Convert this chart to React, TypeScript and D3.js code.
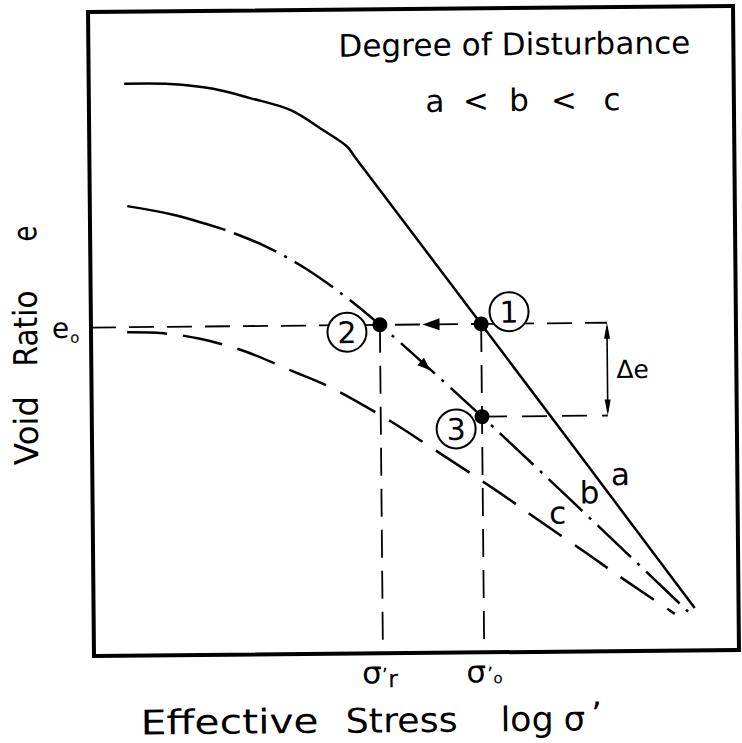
import React from "react";
import * as d3 from "d3";

// ---- data (log σ' and void ratio e in arbitrary units) ----
const stressA = [0.55, 1.26, 1.93, 2.5, 3.12, 3.63, 4.0, 4.13, 6.05, 9.32];
const ratioA = [8.88, 8.87, 8.79, 8.64, 8.45, 8.13, 7.87, 7.69, 5.1, 0.66];
const stressB = [0.58, 1.29, 2.06, 2.71, 3.33, 3.94, 4.48, 6.05, 9.22];
const ratioB = [6.98, 6.84, 6.61, 6.34, 5.99, 5.55, 5.1, 3.66, 0.6];
const bSolidCount = 3;
const stressC = [0.56, 1.12, 1.69, 2.38, 3.08, 3.7, 4.65, 5.24, 6.32, 6.93, 7.63, 8.13, 9.01];
const ratioC = [5.02, 5.0, 4.91, 4.71, 4.41, 4.14, 3.59, 3.2, 2.47, 2.03, 1.54, 1.18, 0.57];
const curveNames = ["a", "b", "c"];
const sigmaR = 4.48;
const sigmaO = 6.05;
const e0 = 5.1;
const e3 = 3.66;
const deltaEStress = 8.0;
const pointLabels = ["1", "2", "3"];
const titleText = "Degree of Disturbance";
const orderText = ["a", "<", "b", "<", "c"];
const xTitleWords = ["Effective", "Stress", "log"];
const yTitleWords = ["Void", "Ratio", "e"];

const FONT = "'DejaVu Sans', sans-serif";

function arrow(tx: number, ty: number, dx: number, dy: number, len: number, hw: number) {
  const n = Math.hypot(dx, dy);
  const ux = dx / n, uy = dy / n;
  const bx = tx - ux * len, by = ty - uy * len;
  const px = -uy * hw, py = ux * hw;
  return `${tx},${ty} ${bx + px},${by + py} ${bx - px},${by - py}`;
}

export default function App() {
  const x = d3.scaleLinear().domain([0, 10]).range([91, 736]);
  const y = d3.scaleLinear().domain([0, 10]).range([653, 9]);
  const line = d3
    .line<[number, number]>()
    .x((d) => x(d[0]))
    .y((d) => y(d[1]))
    .curve(d3.curveCatmullRom.alpha(0.5));

  const ptsA = stressA.map((s, i) => [s, ratioA[i]] as [number, number]);
  const ptsB = stressB.map((s, i) => [s, ratioB[i]] as [number, number]);
  const ptsC = stressC.map((s, i) => [s, ratioC[i]] as [number, number]);

  const p1 = [x(sigmaO), y(e0)];
  const p2 = [x(sigmaR), y(e0)];
  const p3 = [x(sigmaO), y(e3)];
  const xd = x(deltaEStress);

  const midX = x((sigmaR + sigmaO) / 2);
  const t = 0.45;
  const bx = p2[0] + (p3[0] - p2[0]) * t;
  const by = p2[1] + (p3[1] - p2[1]) * t;
  const bdx = p3[0] - p2[0], bdy = p3[1] - p2[1];
  const bn = Math.hypot(bdx, bdy);

  const circleOffsets = [
    [28, -12],
    [-33, 7],
    [-26, 12],
  ];
  const pts = [p1, p2, p3];

  const labelPos = [
    [619, 487],
    [588, 505],
    [556, 525],
  ];
  const orderX = [437, 478, 521, 566, 614];
  const xTitleX = [137, 342, 497];
  const xTitleLen = [178, 112, 53];
  const yTitleY = [427, 325, 230];
  const yTitleLen = [69, 76, 16];

  return (
    <svg
      width={742}
      height={743}
      style={{ position: "absolute", left: 0, top: 0, background: "#fff" }}
      fontFamily={FONT}
    >
      <rect x={0} y={0} width={742} height={743} fill="#fff" />
      <g transform="rotate(-0.53 413 331)">
        {/* frame */}
        <rect
          x={x(0)}
          y={y(10)}
          width={x(10) - x(0)}
          height={y(0) - y(10)}
          fill="none"
          stroke="#000"
          strokeWidth={4}
        />
        {/* reference dashed lines */}
        <g stroke="#000" strokeWidth={1.8} fill="none">
          <line x1={x(0)} x2={xd} y1={y(e0)} y2={y(e0)} strokeDasharray="25 13" />
          <line x1={p3[0]} x2={xd} y1={y(e3)} y2={y(e3)} strokeDasharray="25 15" />
          <line x1={p2[0]} x2={p2[0]} y1={y(e0)} y2={y(0)} strokeDasharray="28 13" />
          <line x1={p1[0]} x2={p1[0]} y1={y(e0)} y2={y(0)} strokeDasharray="28 13" />
          <line x1={xd} x2={xd} y1={y(e0) + 4} y2={y(e3) - 4} strokeWidth={1.6} />
        </g>
        {/* curves */}
        <g fill="none" stroke="#000" strokeWidth={2.5}>
          <path d={line(ptsA) || ""} />
          <path d={line(ptsB.slice(0, bSolidCount)) || ""} />
          <path d={line(ptsB.slice(bSolidCount - 1)) || ""} strokeDasharray="46 9 3 9" strokeDashoffset={-12} />
          <path d={line(ptsC) || ""} strokeDasharray="40 16" />
        </g>
        {/* arrows */}
        <polygon points={arrow(midX - 8, y(e0), -1, 0, 17, 6)} fill="#000" />
        <polygon
          points={arrow(bx + (bdx / bn) * 6, by + (bdy / bn) * 6, bdx, bdy, 13, 5)}
          fill="#000"
        />
        <polygon points={arrow(xd, y(e0), 0, -1, 16, 3)} fill="#000" />
        <polygon points={arrow(xd, y(e3), 0, 1, 16, 3)} fill="#000" />
        {/* points */}
        {pts.map((p, i) => (
          <g key={i}>
            <circle cx={p[0]} cy={p[1]} r={7.5} fill="#000" />
            <circle
              cx={p[0] + circleOffsets[i][0]}
              cy={p[1] + circleOffsets[i][1]}
              r={19.5}
              fill="#fff"
              stroke="#000"
              strokeWidth={2}
            />
            <text
              x={p[0] + circleOffsets[i][0]}
              y={p[1] + circleOffsets[i][1] + 11}
              fontSize={30}
              textAnchor="middle"
            >
              {pointLabels[i]}
            </text>
          </g>
        ))}
        {/* Δe */}
        <text x={xd + 9} y={(y(e0) + y(e3)) / 2 + 9} fontSize={25}>
          Δe
        </text>
        {/* curve labels */}
        {curveNames.map((n, i) => (
          <text key={n} x={labelPos[i][0]} y={labelPos[i][1]} fontSize={31} textAnchor="middle">
            {n}
          </text>
        ))}
        {/* title */}
        <text x={341} y={56} fontSize={31} textLength={352} lengthAdjust="spacing">
          {titleText}
        </text>
        {orderText.map((s, i) => (
          <text key={i} x={orderX[i]} y={112} fontSize={31} textAnchor="middle">
            {s}
          </text>
        ))}
        {/* e0 label */}
        <text x={52} y={y(e0) + 10} fontSize={28}>
          e<tspan dx={1} dy={5} fontSize={15}>o</tspan>
        </text>
        {/* x tick labels */}
        <text x={p2[0] - 21} y={683} fontSize={31}>
          σ<tspan dx={0} dy={-1} fontSize={20}>’</tspan>
          <tspan dx={0} dy={5} fontSize={24}>r</tspan>
        </text>
        <text x={p1[0] - 18} y={683} fontSize={31}>
          σ<tspan dx={1} dy={-1} fontSize={20}>’</tspan>
          <tspan dx={0} dy={2} fontSize={15}>o</tspan>
        </text>
        {/* x title */}
        {xTitleWords.map((w, i) => (
          <text key={w} x={xTitleX[i]} y={732} fontSize={34} textLength={xTitleLen[i]} lengthAdjust="spacingAndGlyphs">
            {w}
          </text>
        ))}
        <text x={560} y={732} fontSize={34}>
          σ<tspan dx={6} dy={-4}>’</tspan>
        </text>
        {/* y title */}
        {yTitleWords.map((w, i) => (
          <text
            key={w}
            transform={`translate(37 ${yTitleY[i]}) rotate(-90)`}
            fontSize={33}
            textAnchor="middle"
            textLength={yTitleLen[i]}
            lengthAdjust="spacingAndGlyphs"
          >
            {w}
          </text>
        ))}
      </g>
    </svg>
  );
}
